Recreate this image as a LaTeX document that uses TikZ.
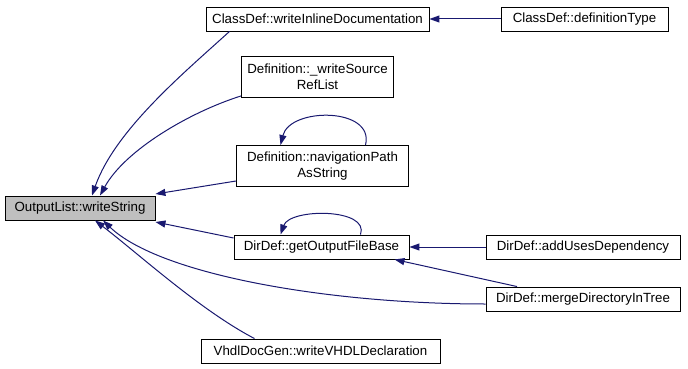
\documentclass[tikz,border=0pt]{standalone}
\usepackage{fontspec}
\setmainfont{Liberation Sans}
\usetikzlibrary{arrows.meta}
\definecolor{edgeblue}{RGB}{25,25,112}
\definecolor{boxgray}{RGB}{191,191,191}

\begin{document}
\begin{tikzpicture}[x=1pt,y=-1pt,
    fn/.style={draw=black,fill=white,line width=0.9pt,minimum height=24pt,inner sep=0pt,align=center,font=\fontsize{13.3}{16}\selectfont},
    fn2/.style={fn,minimum height=41pt},
    call/.style={draw=edgeblue,line width=1pt,-{Triangle[length=10pt,width=7pt]}}]
    \useasboundingbox (0,0) rectangle (688,369);
    % functions
    \node[fn,fill=boxgray,minimum width=150pt] (writeString) at (80,208) {OutputList::writeString};
    \node[fn,minimum width=223pt] (writeInline) at (317.5,19) {ClassDef::writeInlineDocumentation};
    \node[fn,minimum width=167pt] (defType) at (584.5,19) {ClassDef::definitionType};
    \node[fn2,minimum width=152pt] (writeSource) at (317.5,77) {Definition::\_writeSource\\RefList};
    \node[fn2,minimum width=172pt] (navPath) at (322.5,166) {Definition::navigationPath\\AsString};
    \node[fn,minimum width=175pt] (getOut) at (321.5,247) {DirDef::getOutputFileBase};
    \node[fn,minimum width=194pt] (addUses) at (583,247) {DirDef::addUsesDependency};
    \node[fn,minimum width=194pt] (merge) at (583,299) {DirDef::mergeDirectoryInTree};
    \node[fn,minimum width=239pt] (vhdl) at (320.5,351) {VhdlDocGen::writeVHDLDeclaration};
    % calls into writeString
    \draw[call] ([xshift=-88pt]writeInline.south) .. controls (185,72) and (115,130) .. ([xshift=12pt]writeString.north);
    \draw[call] ([yshift=2pt]writeSource.south west) .. controls (190,112) and (125,150) .. ([xshift=20pt]writeString.north);
    \draw[call] ([yshift=-15pt]navPath.west) -- ([yshift=14pt]writeString.east);
    \draw[call] ([yshift=9pt]getOut.west) -- ([yshift=-14pt]writeString.east);
    \draw[call] ([yshift=-5pt]merge.west) .. controls (330,304) and (160,275) .. ([xshift=23pt]writeString.south);
    \draw[call] ([xshift=-66pt]vhdl.north) .. controls (200,310) and (140,255) .. ([xshift=15pt]writeString.south);
    % recursive calls
    \draw[call] ([xshift=43pt]navPath.north) .. controls (375,107) and (290,107) .. ([xshift=-42pt]navPath.north);
    \draw[call] ([xshift=39pt]getOut.north) .. controls (370,208) and (290,208) .. ([xshift=-41pt]getOut.north);
    % other callers
    \draw[call] (defType.west) -- (writeInline.east);
    \draw[call] (addUses.west) -- (getOut.east);
    \draw[call] ([xshift=-66pt]merge.north) -- ([xshift=73pt]getOut.south);
\end{tikzpicture}
\end{document}
